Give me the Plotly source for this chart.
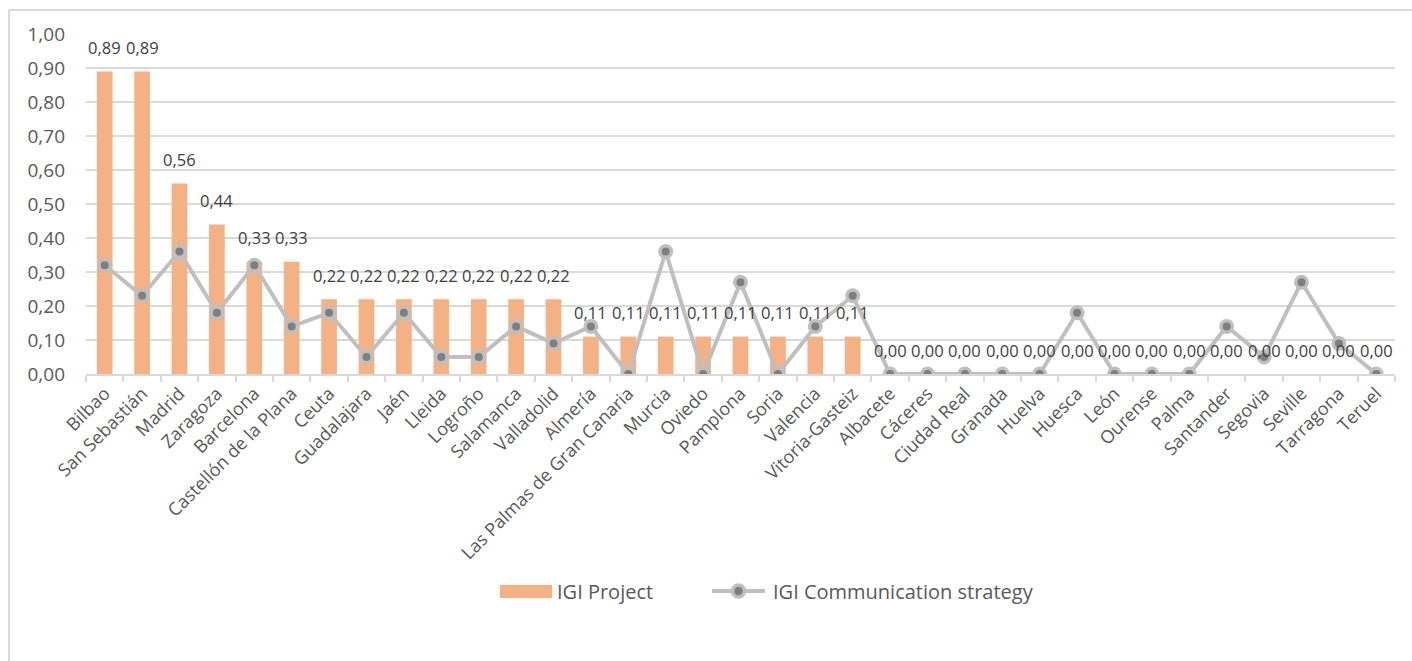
import plotly.graph_objects as go

# Cities along the category axis
cities = [
    "Bilbao", "San Sebastián", "Madrid", "Zaragoza", "Barcelona",
    "Castellón de la Plana", "Ceuta", "Guadalajara", "Jaén", "Lleida",
    "Logroño", "Salamanca", "Valladolid", "Almería",
    "Las Palmas de Gran Canaria", "Murcia", "Oviedo", "Pamplona", "Soria",
    "Valencia", "Vitoria-Gasteiz", "Albacete", "Cáceres", "Ciudad Real",
    "Granada", "Huelva", "Huesca", "León", "Ourense", "Palma", "Santander",
    "Segovia", "Seville", "Tarragona", "Teruel",
]

# IGI Project index (bars)
igi_project = [
    0.89, 0.89, 0.56, 0.44, 0.33,
    0.33, 0.22, 0.22, 0.22, 0.22,
    0.22, 0.22, 0.22, 0.11,
    0.11, 0.11, 0.11, 0.11, 0.11,
    0.11, 0.11, 0.00, 0.00, 0.00,
    0.00, 0.00, 0.00, 0.00, 0.00, 0.00, 0.00,
    0.00, 0.00, 0.00, 0.00,
]

# IGI Communication strategy index (line)
igi_communication = [
    0.32, 0.23, 0.36, 0.18, 0.32,
    0.14, 0.18, 0.05, 0.18, 0.05,
    0.05, 0.14, 0.09, 0.14,
    0.00, 0.36, 0.00, 0.27, 0.00,
    0.14, 0.23, 0.00, 0.00, 0.00,
    0.00, 0.00, 0.18, 0.00, 0.00, 0.00, 0.14,
    0.05, 0.27, 0.09, 0.00,
]

series_names = ["IGI Project", "IGI Communication strategy"]
y_ticks = [i / 10 for i in range(11)]

FONT = "Open Sans"
W, H = 1412, 661
ML, MR, MT, MB = 86, 17, 34, 287
PW = W - ML - MR
PH = H - MT - MB

BAR_COLOR = "#F4B183"
LINE_COLOR = "#BFBFBF"
DOT_COLOR = "#7F7F7F"
GRID = "#D9D9D9"
TEXT = "#595959"


def px(x):
    """Horizontal pixel position -> paper coordinate."""
    return (x - ML) / PW


def py(y):
    """Vertical pixel position -> paper coordinate."""
    return (MT + PH - y) / PH


fig = go.Figure()

fig.add_trace(go.Bar(
    x=cities, y=igi_project, name=series_names[0],
    marker=dict(color=BAR_COLOR, line=dict(width=0)),
    width=0.42, showlegend=False,
))

fig.add_trace(go.Scatter(
    x=cities, y=igi_communication, name=series_names[1],
    mode="lines+markers",
    line=dict(color=LINE_COLOR, width=4),
    marker=dict(size=11.5, color=DOT_COLOR, line=dict(color=LINE_COLOR, width=3.5)),
    showlegend=False,
))

# Value labels above each bar
for c, v in zip(cities, igi_project):
    fig.add_annotation(
        x=c, y=v, text=f"{v:.2f}".replace(".", ","),
        showarrow=False, yanchor="middle", yshift=24,
        font=dict(family=FONT, size=16.5, color="#404040"),
    )

# Chart frame (top and left edges)
frame = dict(color=GRID, width=2)
fig.add_shape(type="line", xref="paper", yref="paper",
              x0=px(9), x1=px(W + 20), y0=py(10), y1=py(10), line=frame)
fig.add_shape(type="line", xref="paper", yref="paper",
              x0=px(9), x1=px(9), y0=py(10), y1=py(H + 20), line=frame)

# Legend: bar swatch, line-with-marker sample and their captions
LEG_Y = 591
fig.add_shape(type="rect", xref="paper", yref="paper",
              x0=px(500), x1=px(552), y0=py(598), y1=py(585),
              fillcolor=BAR_COLOR, line=dict(width=0))
fig.add_annotation(xref="paper", yref="paper", x=px(555), y=py(LEG_Y),
                   xanchor="left", yanchor="middle", showarrow=False,
                   text=series_names[0],
                   font=dict(family=FONT, size=20, color=TEXT))
fig.add_shape(type="line", xref="paper", yref="paper",
              x0=px(712), x1=px(765), y0=py(LEG_Y), y1=py(LEG_Y),
              line=dict(color=LINE_COLOR, width=4))
fig.add_shape(type="circle", xref="paper", yref="paper",
              x0=px(738.5 - 6), x1=px(738.5 + 6),
              y0=py(LEG_Y + 6), y1=py(LEG_Y - 6),
              fillcolor=DOT_COLOR, line=dict(color=LINE_COLOR, width=3.5))
fig.add_annotation(xref="paper", yref="paper", x=px(771), y=py(LEG_Y),
                   xanchor="left", yanchor="middle", showarrow=False,
                   text=series_names[1],
                   font=dict(family=FONT, size=20, color=TEXT))

fig.update_layout(
    width=W, height=H,
    margin=dict(l=ML, r=MR, t=MT, b=MB, autoexpand=False),
    paper_bgcolor="white", plot_bgcolor="white",
    separators=",.",
    font=dict(family=FONT, color=TEXT),
    showlegend=False,
)

fig.update_yaxes(
    range=[0, 1], tickvals=y_ticks, tickformat=".2f",
    showgrid=True, gridcolor=GRID, gridwidth=2,
    zeroline=False, showline=False, ticks="",
    tickfont=dict(family=FONT, size=19, color=TEXT),
    ticklabelstandoff=20,
)

fig.update_xaxes(
    type="category", tickangle=-45,
    range=[-0.5, len(cities) - 0.5], autorange=False,
    showgrid=False, showline=True, linecolor=GRID, linewidth=2,
    ticks="outside", tickson="boundaries", ticklen=6,
    tickcolor=GRID, tickwidth=1.5,
    tickfont=dict(family=FONT, size=18, color=TEXT),
)

fig.write_html("out.html")
